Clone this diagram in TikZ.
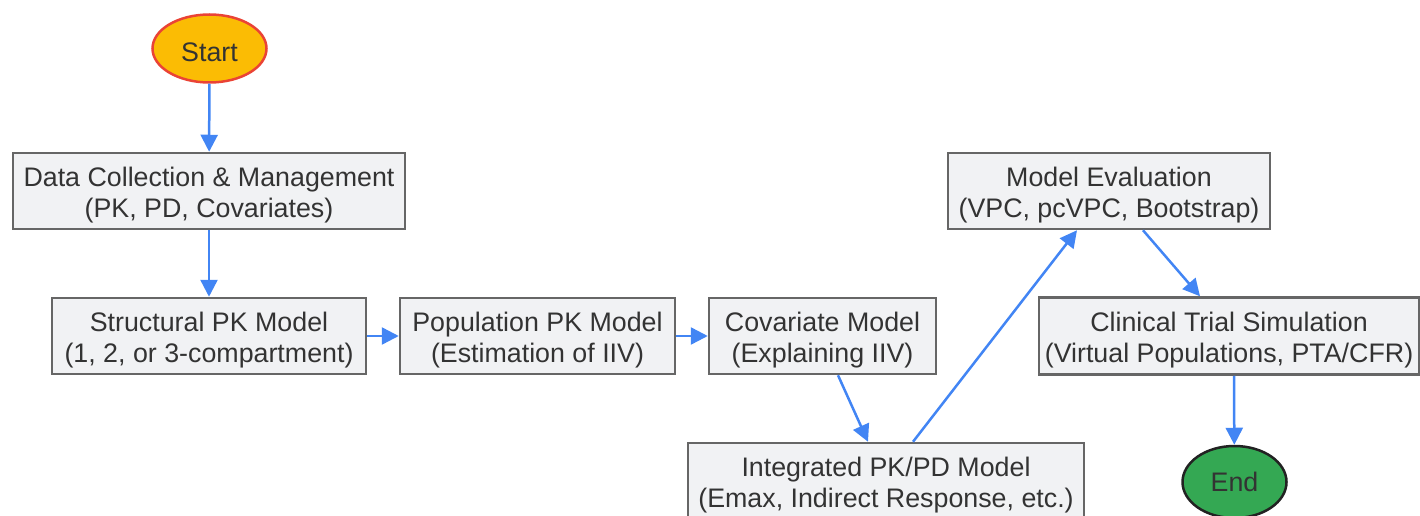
\documentclass[tikz,border=0pt]{standalone}
\usepackage{fontspec}
\setmainfont{Liberation Sans}
\usetikzlibrary{arrows.meta,shapes.geometric}
\definecolor{boxfill}{HTML}{F1F2F4}
\definecolor{boxline}{HTML}{666666}
\definecolor{arrowblue}{HTML}{4285F4}
\definecolor{startfill}{HTML}{FBBC04}
\definecolor{startline}{HTML}{EA4335}
\definecolor{endfill}{HTML}{34A853}
\definecolor{endline}{HTML}{222222}
\definecolor{txt}{HTML}{333333}
\newcommand\tstrut{\rule{0pt}{27pt}}
\begin{document}
\begin{tikzpicture}[x=1pt,y=-1pt,
  every node/.style={text=txt,font=\fontsize{26.8}{31}\selectfont,align=center,inner sep=0pt},
  procbox/.style={draw=boxline,fill=boxfill,line width=2.5pt,rectangle},
  startnode/.style={ellipse,draw=startline,fill=startfill,line width=2.5pt,minimum width=114pt,minimum height=68pt},
  endnode/.style={ellipse,draw=endline,fill=endfill,line width=2.5pt,minimum width=104pt,minimum height=72pt},
  flow/.style={draw=arrowblue,line width=2.5pt,-{Triangle[length=17pt,width=17pt]}}]
\useasboundingbox (0,0) rectangle (1420,516);
\node[startnode] (start) at (209.5,48.5) {\tstrut Start};
\node[procbox,minimum width=392pt,minimum height=76pt] (data) at (209,191) {\tstrut Data Collection \& Management\\(PK, PD, Covariates)};
\node[procbox,minimum width=314pt,minimum height=76pt] (struct) at (209,336) {\tstrut Structural PK Model\\(1, 2, or 3-compartment)};
\node[procbox,minimum width=275pt,minimum height=76pt] (pop) at (537.5,336) {\tstrut Population PK Model\\(Estimation of IIV)};
\node[procbox,minimum width=227pt,minimum height=76pt] (cov) at (822.5,336) {\tstrut Covariate Model\\(Explaining IIV)};
\node[procbox,minimum width=396pt,minimum height=76pt] (int) at (886,481) {\tstrut Integrated PK/PD Model\\(Emax, Indirect Response, etc.)};
\node[procbox,minimum width=322pt,minimum height=76pt] (eval) at (1109,191) {\tstrut Model Evaluation\\(VPC, pcVPC, Bootstrap)};
\node[procbox,minimum width=380pt,minimum height=77pt] (clin) at (1229,336) {\tstrut Clinical Trial Simulation\\(Virtual Populations, PTA/CFR)};
\node[endnode] (end) at (1234.5,482) {End};
\draw[flow] (start) -- (data);
\draw[flow] (data) -- (struct);
\draw[flow] (struct) -- (pop);
\draw[flow] (pop) -- (cov);
\draw[flow] ([xshift=15.5pt]cov.south) -- ([xshift=-18pt]int.north);
\draw[flow] ([xshift=27pt]int.north) -- ([xshift=-32pt]eval.south);
\draw[flow] ([xshift=34pt]eval.south) -- ([xshift=-29pt]clin.north);
\draw[flow] ([xshift=5pt]clin.south) -- (end);
\end{tikzpicture}
\end{document}
